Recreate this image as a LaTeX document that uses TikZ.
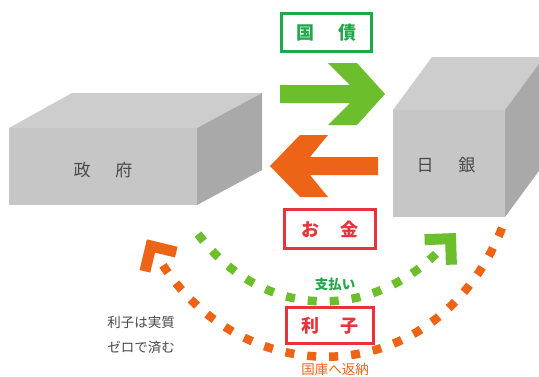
\documentclass[tikz,border=0pt]{standalone}
\usepackage{fontspec}
\newfontfamily\cjk{Noto Sans CJK JP}
\definecolor{bfront}{HTML}{C6C6C6}
\definecolor{btop}{HTML}{CDCDCD}
\definecolor{bside}{HTML}{A9A9A9}
\definecolor{agreen}{HTML}{6DBE2D}
\definecolor{lgreen}{HTML}{22A84A}
\definecolor{aorange}{HTML}{EE6416}
\definecolor{lred}{HTML}{E8323C}
\definecolor{tgray}{HTML}{4A4A4A}
\begin{document}
\begin{tikzpicture}[x=1pt,y=-1pt,
  front/.style={fill=bfront},
  topf/.style={fill=btop},
  sidef/.style={fill=bside},
  boxtext/.style={font=\cjk\fontsize{17}{17}\selectfont, text=tgray, inner sep=0},
  lbl/.style={draw, line width=3, fill=white, inner sep=0, font=\cjk\bfseries\fontsize{18}{18}\selectfont},
  greenlbl/.style={lbl, draw=lgreen, text=lgreen},
  redlbl/.style={lbl, draw=lred, text=lred},
  dashline/.style={line width=8.5, dash pattern=on 9 off 13},
  chev/.style={line width=11, line join=miter, line cap=butt},
  small/.style={font=\cjk\fontsize{13.5}{16}\selectfont, inner sep=0}
]
\useasboundingbox (0,0) rectangle (539,376);
\clip (0,0) rectangle (539,376);
\fill[white] (0,0) rectangle (539,376);

% left box
\fill[front] (9,128) -- (197,128) -- (197,205) -- (9,205) -- cycle;
\fill[topf] (9,128) -- (72,93) -- (262,93) -- (197,128) -- cycle;
\fill[sidef] (197,128) -- (262,93) -- (262,170) -- (197,205) -- cycle;
\node[boxtext] (gov) at (103,170) {政\hspace{25pt}府};

% right box
\fill[front] (393,110) -- (505,110) -- (505,217) -- (393,217) -- cycle;
\fill[topf] (393,110) -- (432,57) -- (544,57) -- (505,110) -- cycle;
\fill[sidef] (505,110) -- (544,57) -- (544,164) -- (505,217) -- cycle;
\node[boxtext] (boj) at (446,165) {日\hspace{25pt}銀};

% big arrows
\fill[agreen] (280,85) -- (350,85) -- (328,63) -- (357,63) -- (385,94) -- (357,125) -- (328,125) -- (350,103) -- (280,103) -- cycle;
\fill[aorange] (378,157) -- (310,157) -- (328,135) -- (300,135) -- (270,166) -- (300,197) -- (328,197) -- (310,175) -- (378,175) -- cycle;

% dashed arcs
\coordinate (gs) at (198,234);
\coordinate (gt) at (450.6,238.7);
\coordinate (os) at (502,228);
\coordinate (ot) at (151,246);
\draw[dashline, draw=agreen, shorten >=12] (gs) .. controls (264,322) and (373,321) .. (gt);
\draw[chev, draw=agreen] (451.4,264.7) -- (gt) -- (424.6,239.6);
\draw[chev, draw=aorange] (176.3,252.1) -- (ot) -- (144.9,271.3);
\draw[dashline, draw=aorange, shorten >=16] (os) .. controls (435,395) and (241,393) .. (ot);

% labels
\node[greenlbl, minimum width=90, minimum height=38] (bond) at (326.5,32.5) {国\hspace{24pt}債};
\node[redlbl, minimum width=91, minimum height=39] (money) at (330,229) {お\hspace{22pt}金};
\node[redlbl, minimum width=87, minimum height=36] (interest) at (330,325.5) {利\hspace{22pt}子};

\node[small, text=lgreen, font=\cjk\bfseries\fontsize{13.5}{16}\selectfont] (pay) at (335,284) {支払い};
\node[small, text=tgray] (note1) at (141,322) {利子は実質};
\node[small, text=tgray] (note2) at (141,347) {ゼロで済む};
\node[small, text=aorange] (ret) at (335,369) {国庫へ返納};
\end{tikzpicture}
\end{document}
